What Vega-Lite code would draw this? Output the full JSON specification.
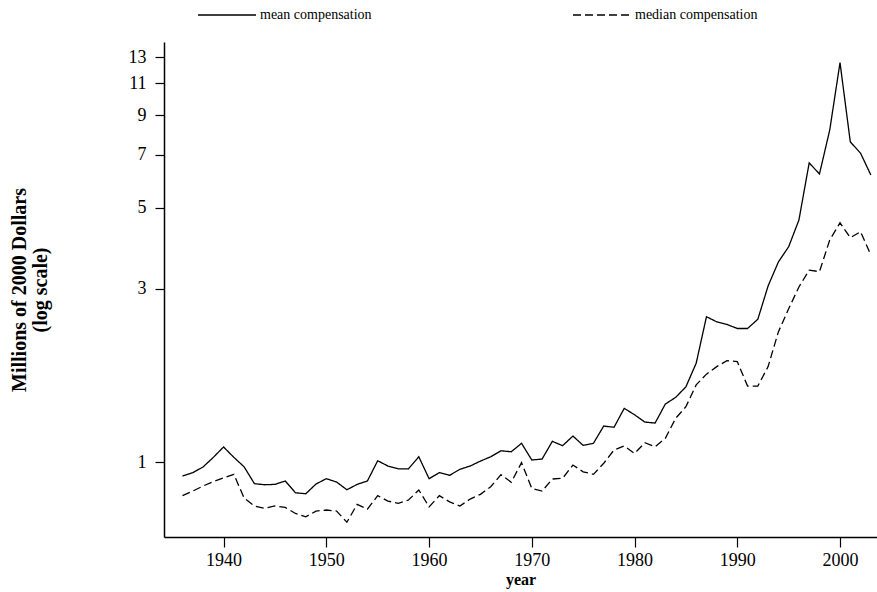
{
  "$schema": "https://vega.github.io/schema/vega-lite/v6.json",
  "width": 713,
  "height": 495,
  "autosize": {"type": "none"},
  "padding": {"left": 164, "top": 42, "right": 0, "bottom": 55},
  "background": "white",
  "config": {
    "view": {"stroke": null},
    "font": "Liberation Serif",
    "axis": {"domainColor": "black", "tickColor": "black", "labelColor": "black", "titleColor": "black", "domainWidth": 1.5, "tickWidth": 1.2, "grid": false, "labelFont": "Liberation Serif", "titleFont": "Liberation Serif"}
  },
  "data": {
    "values": [
      {"year": 1936, "mean": 0.915, "median": 0.808},
      {"year": 1937, "mean": 0.935, "median": 0.832},
      {"year": 1938, "mean": 0.969, "median": 0.859},
      {"year": 1939, "mean": 1.03, "median": 0.883},
      {"year": 1940, "mean": 1.10, "median": 0.905},
      {"year": 1941, "mean": 1.03, "median": 0.925},
      {"year": 1942, "mean": 0.97, "median": 0.796},
      {"year": 1943, "mean": 0.872, "median": 0.757},
      {"year": 1944, "mean": 0.866, "median": 0.746},
      {"year": 1945, "mean": 0.868, "median": 0.757},
      {"year": 1946, "mean": 0.887, "median": 0.75},
      {"year": 1947, "mean": 0.823, "median": 0.722},
      {"year": 1948, "mean": 0.818, "median": 0.707},
      {"year": 1949, "mean": 0.87, "median": 0.733},
      {"year": 1950, "mean": 0.90, "median": 0.738},
      {"year": 1951, "mean": 0.881, "median": 0.733},
      {"year": 1952, "mean": 0.839, "median": 0.683},
      {"year": 1953, "mean": 0.868, "median": 0.765},
      {"year": 1954, "mean": 0.887, "median": 0.742},
      {"year": 1955, "mean": 1.008, "median": 0.808},
      {"year": 1956, "mean": 0.975, "median": 0.781},
      {"year": 1957, "mean": 0.958, "median": 0.77},
      {"year": 1958, "mean": 0.958, "median": 0.786},
      {"year": 1959, "mean": 1.034, "median": 0.838},
      {"year": 1960, "mean": 0.90, "median": 0.753},
      {"year": 1961, "mean": 0.935, "median": 0.808},
      {"year": 1962, "mean": 0.919, "median": 0.777},
      {"year": 1963, "mean": 0.955, "median": 0.757},
      {"year": 1964, "mean": 0.975, "median": 0.791},
      {"year": 1965, "mean": 1.006, "median": 0.815},
      {"year": 1966, "mean": 1.034, "median": 0.855},
      {"year": 1967, "mean": 1.074, "median": 0.923},
      {"year": 1968, "mean": 1.067, "median": 0.88},
      {"year": 1969, "mean": 1.126, "median": 0.996},
      {"year": 1970, "mean": 1.013, "median": 0.846},
      {"year": 1971, "mean": 1.019, "median": 0.832},
      {"year": 1972, "mean": 1.14, "median": 0.898},
      {"year": 1973, "mean": 1.109, "median": 0.902},
      {"year": 1974, "mean": 1.179, "median": 0.981},
      {"year": 1975, "mean": 1.111, "median": 0.94},
      {"year": 1976, "mean": 1.126, "median": 0.925},
      {"year": 1977, "mean": 1.256, "median": 0.992},
      {"year": 1978, "mean": 1.246, "median": 1.079},
      {"year": 1979, "mean": 1.405, "median": 1.107},
      {"year": 1980, "mean": 1.349, "median": 1.056},
      {"year": 1981, "mean": 1.288, "median": 1.13},
      {"year": 1982, "mean": 1.28, "median": 1.102},
      {"year": 1983, "mean": 1.444, "median": 1.162},
      {"year": 1984, "mean": 1.506, "median": 1.319},
      {"year": 1985, "mean": 1.61, "median": 1.42},
      {"year": 1986, "mean": 1.87, "median": 1.63},
      {"year": 1987, "mean": 2.51, "median": 1.745},
      {"year": 1988, "mean": 2.43, "median": 1.83},
      {"year": 1989, "mean": 2.39, "median": 1.9},
      {"year": 1990, "mean": 2.33, "median": 1.89},
      {"year": 1991, "mean": 2.33, "median": 1.618},
      {"year": 1992, "mean": 2.47, "median": 1.618},
      {"year": 1993, "mean": 3.05, "median": 1.83},
      {"year": 1994, "mean": 3.55, "median": 2.28},
      {"year": 1995, "mean": 3.91, "median": 2.64},
      {"year": 1996, "mean": 4.63, "median": 3.03},
      {"year": 1997, "mean": 6.65, "median": 3.37},
      {"year": 1998, "mean": 6.2, "median": 3.34},
      {"year": 1999, "mean": 8.19, "median": 4.08},
      {"year": 2000, "mean": 12.55, "median": 4.55},
      {"year": 2001, "mean": 7.6, "median": 4.14},
      {"year": 2002, "mean": 7.07, "median": 4.30},
      {"year": 2003, "mean": 6.16, "median": 3.71}
    ]
  },
  "transform": [
    {"fold": ["mean", "median"], "as": ["stat", "value"]},
    {"lookup": "stat", "from": {"data": {"values": [{"stat": "mean", "label": "mean compensation"}, {"stat": "median", "label": "median compensation"}]}, "key": "stat", "fields": ["label"]}}
  ],
  "mark": {"type": "line", "color": "black", "strokeWidth": 1.3},
  "encoding": {
    "x": {
      "field": "year", "type": "quantitative",
      "scale": {"domain": [1934.2, 2003.6], "nice": false, "zero": false},
      "axis": {"values": [1940, 1950, 1960, 1970, 1980, 1990, 2000], "format": "d", "title": "year", "titleFontSize": 16, "titleFontWeight": "bold", "titlePadding": 2, "labelFontSize": 18, "tickSize": 10, "labelPadding": 4}
    },
    "y": {
      "field": "value", "type": "quantitative",
      "scale": {"type": "log", "domain": [0.622, 14.3], "nice": false},
      "axis": {"values": [1, 3, 5, 7, 9, 11, 13], "format": "d", "title": ["Millions of 2000 Dollars", "(log scale)"], "titleFontSize": 20, "titleFontWeight": "bold", "titleLineHeight": 21, "titlePadding": 78, "labelFontSize": 18, "tickSize": 9, "labelPadding": 9}
    },
    "strokeDash": {
      "field": "label", "type": "nominal",
      "scale": {"domain": ["mean compensation", "median compensation"], "range": [[1, 0], [8, 4]]},
      "legend": {
        "title": null, "orient": "none", "direction": "horizontal", "legendX": 33, "legendY": -57,
        "symbolType": "stroke", "symbolSize": 3364, "symbolStrokeColor": "black", "symbolStrokeWidth": 1.3,
        "labelFont": "Liberation Serif", "labelFontSize": 14, "labelColor": "black", "labelOffset": 3,
        "columnPadding": 198
      }
    }
  }
}
